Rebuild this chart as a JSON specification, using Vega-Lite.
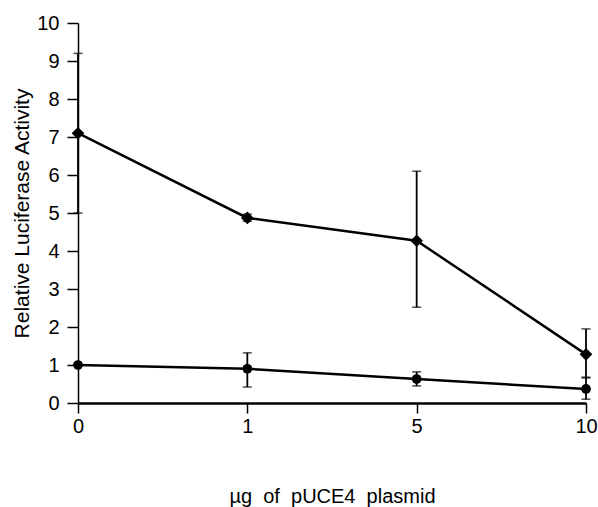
{
  "$schema": "https://vega.github.io/schema/vega-lite/v6.json",
  "width": 508,
  "height": 380,
  "autosize": "none",
  "padding": {"left": 78, "top": 23, "right": 12, "bottom": 104},
  "background": "white",
  "config": {
    "view": {"stroke": null},
    "font": "Liberation Sans",
    "axis": {"grid": false, "domainColor": "black", "tickColor": "black", "labelColor": "black", "titleColor": "black", "labelFont": "Liberation Sans", "titleFont": "Liberation Sans", "titleFontWeight": "normal", "domainWidth": 2, "tickWidth": 1.5, "labelOverlap": false, "labelFontSize": 20, "titleFontSize": 20}
  },
  "data": {
    "values": [
      {"dose": "0", "series": "A", "value": 7.1, "lo": 5.0, "hi": 9.2},
      {"dose": "1", "series": "A", "value": 4.87, "lo": 4.78, "hi": 4.97},
      {"dose": "5", "series": "A", "value": 4.27, "lo": 2.52, "hi": 6.1},
      {"dose": "10", "series": "A", "value": 1.28, "lo": 0.66, "hi": 1.95},
      {"dose": "0", "series": "B", "value": 1.0, "lo": 1.0, "hi": 1.0},
      {"dose": "1", "series": "B", "value": 0.9, "lo": 0.42, "hi": 1.32},
      {"dose": "5", "series": "B", "value": 0.63, "lo": 0.45, "hi": 0.82},
      {"dose": "10", "series": "B", "value": 0.37, "lo": 0.1, "hi": 0.68}
    ]
  },
  "encoding": {
    "x": {
      "field": "dose", "type": "ordinal", "sort": ["0", "1", "5", "10"],
      "scale": {"type": "point", "padding": 0},
      "axis": {"title": "µg\u00a0 of\u00a0 pUCE4\u00a0 plasmid", "labelAngle": 0, "tickSize": 10, "labelPadding": 3, "titlePadding": 50, "domainWidth": 2.5}
    },
    "y": {"field": "value", "type": "quantitative", "scale": {"domain": [0, 10]},
      "axis": {"title": "Relative Luciferase Activity", "titleFontSize": 21, "values": [0,1,2,3,4,5,6,7,8,9,10], "tickSize": 11, "labelPadding": 8, "titlePadding": 4, "domainWidth": 1.5}}
  },
  "layer": [
    {
      "mark": {"type": "rule", "color": "black", "strokeWidth": 1.8},
      "encoding": {
        "y": {"field": "lo", "type": "quantitative"},
        "y2": {"field": "hi"}
      }
    },
    {
      "mark": {"type": "tick", "color": "black", "thickness": 1.5, "size": 9},
      "encoding": {"y": {"field": "hi", "type": "quantitative"}}
    },
    {
      "mark": {"type": "tick", "color": "black", "thickness": 1.5, "size": 9},
      "encoding": {"y": {"field": "lo", "type": "quantitative"}}
    },
    {
      "mark": {"type": "line", "color": "black", "strokeWidth": 2.5},
      "encoding": {
        "detail": {"field": "series"}
      }
    },
    {
      "mark": {"type": "point", "filled": true, "color": "black", "opacity": 1},
      "encoding": {
        "shape": {"field": "series", "type": "nominal", "scale": {"domain": ["A", "B"], "range": ["diamond", "circle"]}, "legend": null},
        "size": {"field": "series", "type": "nominal", "scale": {"domain": ["A", "B"], "range": [160, 95]}, "legend": null}
      }
    }
  ]
}
